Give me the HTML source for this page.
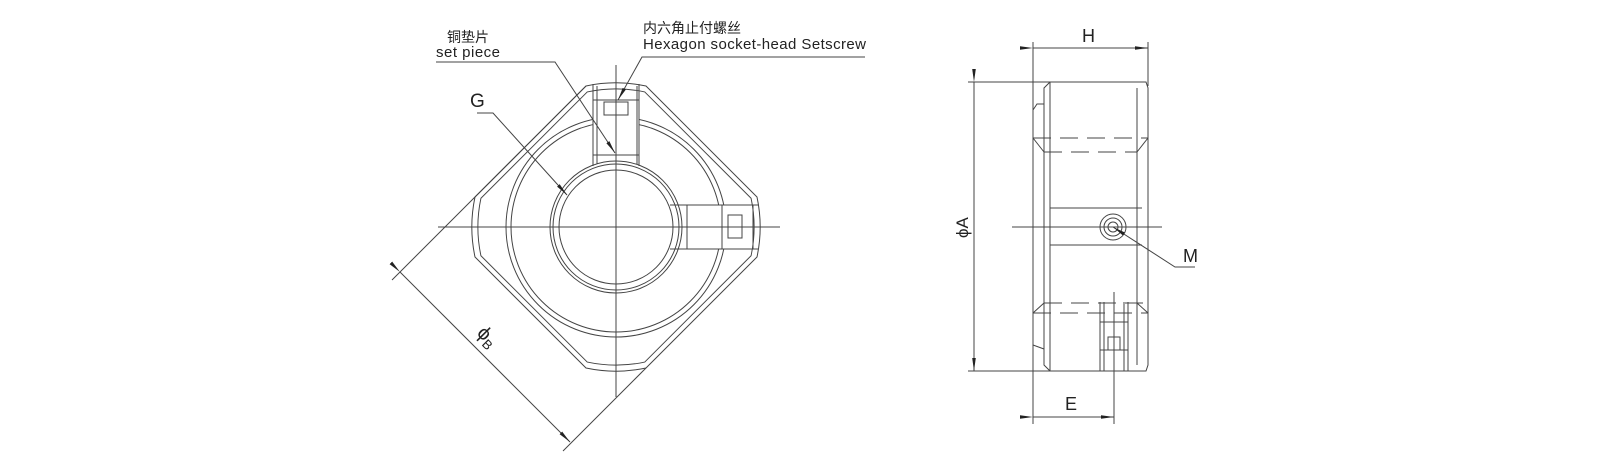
<!DOCTYPE html>
<html><head><meta charset="utf-8"><style>
html,body{margin:0;padding:0;background:#fff;}
svg{display:block;}
text{font-family:"Liberation Sans","Noto Sans CJK SC",sans-serif;fill:#222;}
</style></head><body>
<svg width="1610" height="461" viewBox="0 0 1610 461" xmlns="http://www.w3.org/2000/svg">
<defs>
<marker id="ar" markerWidth="13" markerHeight="6" refX="13" refY="3" orient="auto" markerUnits="userSpaceOnUse">
<path d="M0,1.2 L13,3 L0,4.8 Z" fill="#222"/></marker>
</defs>
<g fill="none" stroke="#444" stroke-width="1">
<!-- LEFT VIEW -->
<path d="M586,86 A144,144 0 0 1 646,86 L757,197 A144,144 0 0 1 757,257 L646,368 A144,144 0 0 1 586,368 L475,257 A144,144 0 0 1 475,197 Z"/>
<path transform="translate(616,227) scale(0.958) translate(-616,-227)" d="M586,86 A144,144 0 0 1 646,86 L757,197 A144,144 0 0 1 757,257 L646,368 A144,144 0 0 1 586,368 L475,257 A144,144 0 0 1 475,197 Z"/>
<circle cx="616" cy="227" r="110"/>
<circle cx="616" cy="227" r="105"/>
<!-- top slot -->
<rect x="593.5" y="92" width="45" height="66" fill="#fff" stroke="none"/>
<!-- right slot -->
<rect x="684" y="205.5" width="68" height="43" fill="#fff" stroke="none"/>
<circle cx="616" cy="227" r="66"/>
<circle cx="616" cy="227" r="63"/>
<circle cx="616" cy="227" r="57"/>
<line x1="593" y1="84" x2="593" y2="166"/><line x1="639" y1="84" x2="639" y2="166"/>
<line x1="597" y1="86" x2="597" y2="164"/><line x1="637" y1="86" x2="637" y2="164"/>
<line x1="593" y1="100" x2="639" y2="100"/><line x1="593" y1="155" x2="639" y2="155"/>
<rect x="604" y="102" width="24" height="13"/>
<line x1="670" y1="205" x2="758" y2="205"/><line x1="670" y1="249" x2="758" y2="249"/>
<line x1="687" y1="205" x2="687" y2="249"/><line x1="722" y1="205" x2="722" y2="249"/>
<line x1="753" y1="205" x2="753" y2="249"/>
<rect x="728" y="215" width="14" height="23"/>
<!-- centerlines -->
<line x1="438" y1="227" x2="780" y2="227"/>
<line x1="616" y1="65" x2="616" y2="397"/>
<!-- phiB ext + dim -->
<line x1="586" y1="86" x2="392" y2="280"/>
<line x1="646" y1="368" x2="563" y2="451"/>
<line x1="400" y1="272" x2="570" y2="442" marker-start="url(#ar)" marker-end="url(#ar)"/>
<!-- leaders -->
<polyline points="436,62 555,62 615,153" marker-end="url(#ar)"/>
<polyline points="477,113 493,113 567,195" marker-end="url(#ar)"/>
<polyline points="865,57 642,57 618,100" marker-end="url(#ar)"/>

<!-- RIGHT VIEW -->
<line x1="1033" y1="42" x2="1033" y2="424"/>
<line x1="1148" y1="42" x2="1148" y2="86"/>
<line x1="1033" y1="48" x2="1148" y2="48" marker-start="url(#ar)" marker-end="url(#ar)"/>
<line x1="968" y1="82" x2="1050" y2="82"/>
<line x1="968" y1="371" x2="1050" y2="371"/>
<line x1="974" y1="82" x2="974" y2="371" marker-start="url(#ar)" marker-end="url(#ar)"/>
<path d="M1050,82 L1146,82 L1148,88 L1148,365 L1146,371 L1050,371 L1044,365 L1044,88 Z"/>
<line x1="1050" y1="82" x2="1050" y2="371"/>
<path d="M1044,104 L1037,104 L1033,110 L1033,345 L1044,349"/>
<line x1="1137" y1="88" x2="1137" y2="365"/>
<line x1="1033" y1="138" x2="1148" y2="138" stroke-dasharray="18,9"/>
<line x1="1044" y1="152" x2="1137" y2="152" stroke-dasharray="18,9"/>
<line x1="1033" y1="138" x2="1044" y2="152"/><line x1="1148" y1="138" x2="1137" y2="152"/>
<line x1="1044" y1="152" x2="1044" y2="303" stroke-dasharray="18,9"/>
<line x1="1137" y1="152" x2="1137" y2="303" stroke-dasharray="18,9"/>
<line x1="1050" y1="208" x2="1142" y2="208"/>
<line x1="1050" y1="245" x2="1142" y2="245"/>
<line x1="1044" y1="303" x2="1148" y2="303" stroke-dasharray="18,9"/>
<line x1="1033" y1="313" x2="1148" y2="313" stroke-dasharray="18,9"/>
<line x1="1044" y1="303" x2="1033" y2="313"/><line x1="1137" y1="303" x2="1148" y2="313"/>
<circle cx="1113" cy="227" r="13"/><circle cx="1113" cy="227" r="9"/><circle cx="1113" cy="227" r="5"/>
<line x1="1012" y1="227" x2="1162" y2="227"/>
<polyline points="1195,267 1175,267 1113,227" marker-end="url(#ar)"/>
<line x1="1100" y1="302" x2="1100" y2="371"/><line x1="1104" y1="302" x2="1104" y2="371"/>
<line x1="1124" y1="302" x2="1124" y2="371"/><line x1="1128" y1="302" x2="1128" y2="371"/>
<line x1="1100" y1="322" x2="1128" y2="322"/><line x1="1100" y1="350" x2="1128" y2="350"/>
<rect x="1108" y="337" width="12" height="13"/>
<line x1="1114" y1="292" x2="1114" y2="424"/>
<line x1="1033" y1="417" x2="1114" y2="417" marker-start="url(#ar)" marker-end="url(#ar)"/>
</g>
<text x="447" y="42" font-size="14">铜垫片</text>
<text x="436" y="57" font-size="15" textLength="64">set piece</text>
<text x="643" y="33" font-size="14">内六角止付螺丝</text>
<text x="643" y="49" font-size="15" textLength="223">Hexagon socket-head Setscrew</text>
<text x="470" y="107" font-size="19">G</text>
<text transform="translate(476,334) rotate(45)" font-size="20">ϕ<tspan font-size="13" dy="4">B</tspan></text>
<text x="1082" y="42" font-size="18">H</text>
<text transform="translate(968,238) rotate(-90)" font-size="17">ϕA</text>
<text x="1183" y="262" font-size="18">M</text>
<text x="1065" y="410" font-size="18">E</text>
</svg>
</body></html>
